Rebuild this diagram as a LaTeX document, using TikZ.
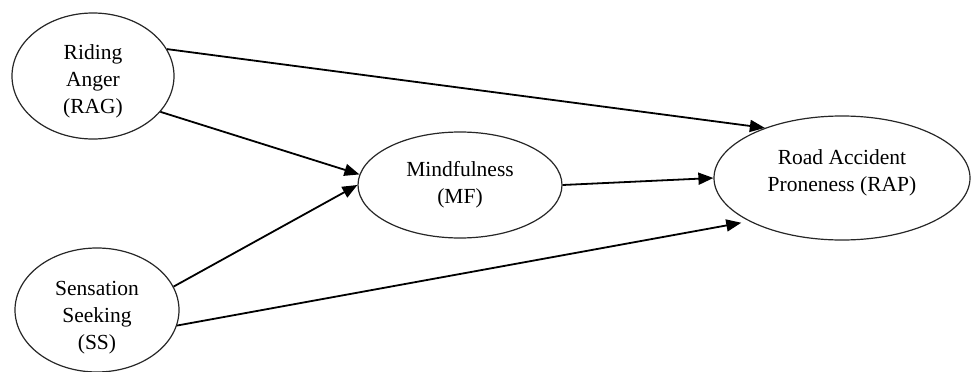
\documentclass[tikz,border=0pt]{standalone}
\usepackage{fontspec}
\setmainfont{Liberation Serif}
\usetikzlibrary{shapes.geometric,arrows.meta}
\begin{document}
\begin{tikzpicture}[x=1pt,y=-1pt,
  construct/.style={draw=black!85,line width=1.2pt,ellipse,inner sep=0pt},
  label text/.style={inner sep=0pt,align=center,font=\fontsize{21.5}{27}\selectfont},
  path/.style={line width=1.8pt,-{Triangle[length=15pt,width=12pt]}}]
\useasboundingbox (0,0) rectangle (977,372);
\node[construct,minimum width=162pt,minimum height=126pt] (rag) at (93,76) {};
\node[construct,minimum width=164pt,minimum height=124pt] (ss) at (97,310) {};
\node[construct,minimum width=204pt,minimum height=106pt] (mf) at (460,185) {};
\node[construct,minimum width=256pt,minimum height=124pt] (rap) at (842,178) {};
\node[label text] (ragt) at (93,81) {Riding\\Anger\\(RAG)};
\node[label text] (sst) at (97,318) {Sensation\\Seeking\\(SS)};
\node[label text] (mft) at (460,185) {Mindfulness\\(MF)};
\node[label text] (rapt) at (842,173) {Road Accident\\Proneness (RAP)};
\draw[path] (rag.20) -- (rap.147);
\draw[path] (rag.-28) -- (mf.174);
\draw[path] (ss.17) -- (mf.180);
\draw[path] (mf.east) -- (rap.west);
\draw[path,shorten >=8pt] (ss.-11) -- (rap.205);
\end{tikzpicture}
\end{document}
